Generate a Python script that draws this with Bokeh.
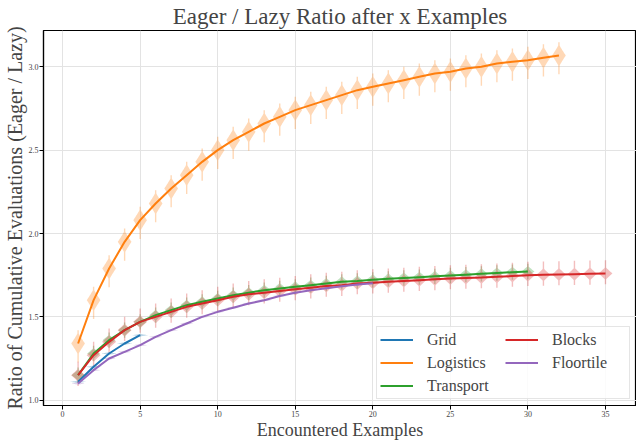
import numpy as np
from bokeh.plotting import figure
from bokeh.models import Range1d, Legend, LegendItem, FixedTicker, PrintfTickFormatter
from bokeh.embed import file_html
from bokeh.resources import INLINE

# ---- data ----
grid_x = [1, 2, 3, 4, 5]
grid_y = [1.11, 1.20, 1.28, 1.34, 1.39]

logistics_x = list(range(1, 33))
logistics_y = [1.34, 1.60, 1.79, 1.95, 2.08, 2.18, 2.27, 2.35, 2.43, 2.50,
               2.56, 2.61, 2.66, 2.70, 2.74, 2.77, 2.80, 2.83, 2.86, 2.88,
               2.90, 2.92, 2.94, 2.96, 2.97, 2.99, 3.00, 3.02, 3.03, 3.04,
               3.055, 3.068]

transport_x = list(range(1, 31))
transport_y = [1.15, 1.28, 1.36, 1.42, 1.47, 1.51, 1.54, 1.57, 1.59, 1.61,
               1.63, 1.645, 1.66, 1.67, 1.68, 1.69, 1.70, 1.71, 1.715, 1.722,
               1.728, 1.733, 1.738, 1.743, 1.748, 1.753, 1.758, 1.763, 1.768, 1.772]

blocks_x = list(range(1, 36))
blocks_y = [1.15, 1.27, 1.35, 1.42, 1.47, 1.50, 1.53, 1.56, 1.58, 1.60,
            1.62, 1.635, 1.645, 1.655, 1.665, 1.675, 1.685, 1.69, 1.70, 1.705,
            1.71, 1.715, 1.72, 1.725, 1.73, 1.733, 1.736, 1.74, 1.745, 1.75,
            1.752, 1.754, 1.756, 1.758, 1.76]

floortile_x = list(range(1, 21))
floortile_y = [1.10, 1.18, 1.25, 1.29, 1.33, 1.38, 1.42, 1.46, 1.50, 1.53,
               1.555, 1.58, 1.60, 1.625, 1.645, 1.66, 1.672, 1.684, 1.694, 1.702]

domains = ["Grid", "Logistics", "Transport", "Blocks", "Floortile"]
colors = ["#1f77b4", "#ff7f0e", "#2ca02c", "#d62728", "#9467bd"]
series = [(grid_x, grid_y), (logistics_x, logistics_y), (transport_x, transport_y),
          (blocks_x, blocks_y), (floortile_x, floortile_y)]
# violin shape: half width, body half-height, upper tail, lower tail
violin_shape = [(0.50, 0.008, 0.0, 0.0),
                (0.44, 0.068, 0.012, 0.045),
                (0.42, 0.034, 0.012, 0.012),
                (0.45, 0.04, 0.04, 0.025),
                (0.45, 0.007, 0.0, 0.0)]

SERIF = "'Liberation Serif', 'Times New Roman', Times, serif"


def violin(x0, c, W, h, tu, td, wt=0.045, pw=1.1):
    d = np.concatenate([np.linspace(-(h + td), 0, 30), np.linspace(0, h + tu, 30)[1:]])
    u = np.clip(np.abs(d) / h, 0, 1)
    w = W * (1 - u) ** pw
    if tu > 0 or td > 0:
        w = np.maximum(w, wt)
    xs = np.concatenate([x0 - w, (x0 + w)[::-1]])
    ys = np.concatenate([c + d, (c + d)[::-1]])
    return list(xs), list(ys)


p = figure(width=636, height=442, output_backend="svg", toolbar_location=None,
           x_range=Range1d(-1.23, 37.0), y_range=Range1d(0.968, 3.218),
           min_border_left=38, min_border_right=0, min_border_top=25, min_border_bottom=30)

p.title.text = "Eager / Lazy Ratio after x Examples"
p.title.text_font = SERIF
p.title.text_font_size = "23px"
p.title.text_font_style = "normal"
p.title.align = "center"
p.title.offset = 0
p.title.standoff = 3

# violins
for (xs_, ys_), col, shp in zip(series, colors, violin_shape):
    pxs, pys = [], []
    for xv, yv in zip(xs_, ys_):
        a, b = violin(xv, yv, *shp)
        pxs.append(a)
        pys.append(b)
    p.patches(pxs, pys, fill_color=col, fill_alpha=0.3, line_color=None)

# fitted lines
renderers = []
for (xs_, ys_), col in zip(series, colors):
    r = p.line(xs_, ys_, line_color=col, line_width=2)
    renderers.append(r)

legend = Legend(items=[LegendItem(label=d, renderers=[r]) for d, r in zip(domains, renderers)],
                location="bottom_right", nrows=3, orientation="vertical")
legend.label_text_font = SERIF
legend.label_text_font_size = "16px"
legend.glyph_width = 33
legend.glyph_height = 19
legend.label_width = 74
legend.label_standoff = 14
legend.spacing = 4
legend.padding = 3
legend.margin = 6
legend.border_line_color = "#cccccc"
legend.border_line_width = 1
legend.background_fill_alpha = 0.85
p.add_layout(legend)

# axes
p.xaxis.ticker = FixedTicker(ticks=[0, 5, 10, 15, 20, 25, 30, 35])
p.yaxis.ticker = FixedTicker(ticks=[1.0, 1.5, 2.0, 2.5, 3.0])
p.yaxis.formatter = PrintfTickFormatter(format="%.1f")
p.xaxis.axis_label = "Encountered Examples"
p.yaxis.axis_label = "Ratio of Cumulative Evaluations (Eager / Lazy)"
p.xaxis.axis_label_text_font_size = "18px"
p.yaxis.axis_label_text_font_size = "20px"
for ax in (p.xaxis, p.yaxis):
    ax.axis_label_text_font = SERIF
    ax.axis_label_text_font_style = "normal"
    ax.axis_label_standoff = 0
    ax.major_label_text_font = SERIF
    ax.major_label_text_font_size = "8px"
    ax.major_label_standoff = 1
    ax.minor_tick_line_color = None
    ax.major_tick_out = 4
    ax.major_tick_in = 0
    ax.axis_line_color = "black"
    ax.axis_line_width = 1.2
    ax.major_tick_line_color = "black"

p.grid.grid_line_color = "#e3e3e3"
p.grid.grid_line_width = 1
p.outline_line_color = "black"
p.outline_line_width = 1.2
p.outline_line_alpha = 1.0
p.background_fill_color = "white"

open("out.html", "w").write(file_html(p, INLINE))
